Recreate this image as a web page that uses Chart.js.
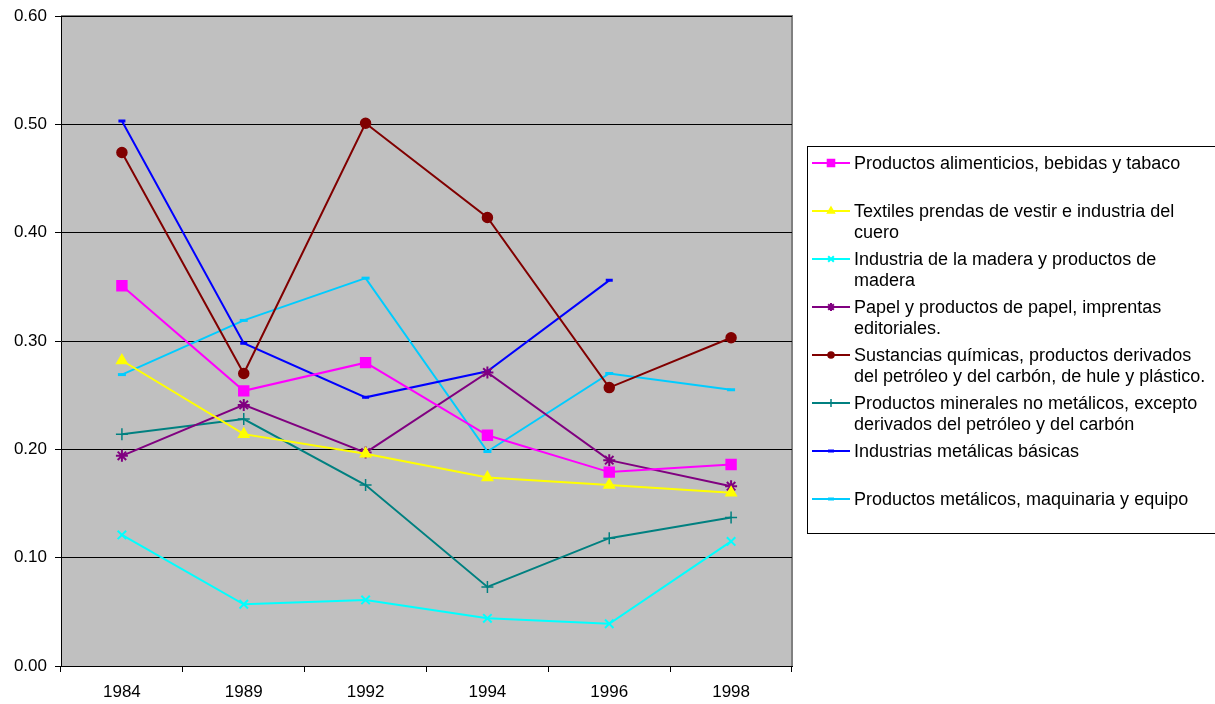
<!DOCTYPE html>
<html>
<head>
<meta charset="utf-8">
<script src="https://cdn.jsdelivr.net/npm/chart.js@4/dist/chart.umd.min.js"></script>
<style>
  html, body { margin: 0; padding: 0; background: #ffffff; }
  #wrap { position: relative; width: 1215px; height: 704px; }
</style>
</head>
<body>
<div id="wrap"><canvas id="c" width="1215" height="704"></canvas></div>
<script>
// Years on the category axis
const years = ['1984', '1989', '1992', '1994', '1996', '1998'];

// Series values by industry branch
const alimenticios = [0.351, 0.254, 0.280, 0.213, 0.179, 0.186];
const textiles     = [0.282, 0.214, 0.196, 0.174, 0.167, 0.160];
const madera       = [0.121, 0.057, 0.061, 0.044, 0.039, 0.115];
const papel        = [0.194, 0.241, 0.197, 0.271, 0.190, 0.166];
const quimicas     = [0.474, 0.270, 0.501, 0.414, 0.257, 0.303];
const minerales    = [0.214, 0.228, 0.167, 0.073, 0.118, 0.137];
const basicas      = [0.503, 0.298, 0.248, 0.272, 0.356, null];
const maquinaria   = [0.269, 0.319, 0.358, 0.198, 0.270, 0.255];

// Legend labels, already split into display lines
const names = [
  ['Productos alimenticios, bebidas y tabaco'],
  ['Textiles prendas de vestir e industria del', 'cuero'],
  ['Industria de la madera y productos de', 'madera'],
  ['Papel y productos de papel, imprentas', 'editoriales.'],
  ['Sustancias químicas, productos derivados', 'del petróleo y del carbón, de hule y plástico.'],
  ['Productos minerales no metálicos, excepto', 'derivados del petróleo y del carbón'],
  ['Industrias metálicas básicas'],
  ['Productos metálicos, maquinaria y equipo']
];

// Value axis tick labels
const yTicks = ['0.00', '0.10', '0.20', '0.30', '0.40', '0.50', '0.60'];

const FONT = '"Liberation Sans", Arial, sans-serif';

function series(i, data, color, style, radius, extra) {
  return Object.assign({
    label: names[i].join(' '),
    data: data,
    borderColor: color,
    backgroundColor: color,
    pointBackgroundColor: color,
    pointBorderColor: color,
    pointStyle: style,
    pointRadius: radius,
    pointHoverRadius: radius,
    pointBorderWidth: 1.5,
    borderWidth: 2,
    tension: 0,
    spanGaps: false
  }, extra || {});
}

const datasets = [
  series(0, alimenticios, '#FF00FF', 'rect', 7),
  series(1, textiles, '#FFFF00', 'triangle', 6),
  series(2, madera, '#00FFFF', 'crossRot', 6, { pointBorderWidth: 2 }),
  series(3, papel, '#800080', 'star', 6, { pointBorderWidth: 2 }),
  series(4, quimicas, '#800000', 'circle', 5),
  series(5, minerales, '#008080', 'cross', 6, { pointBorderWidth: 1.5 }),
  series(6, basicas, '#0000FF', 'line', 3.5, { pointBorderWidth: 3 }),
  series(7, maquinaria, '#00CCFF', 'line', 4, { pointBorderWidth: 3 })
];

// Grey plot area with a darker frame on top and right
const plotBackground = {
  id: 'plotBackground',
  beforeDraw(chart) {
    const { ctx, chartArea: a } = chart;
    ctx.save();
    ctx.fillStyle = '#C0C0C0';
    ctx.fillRect(a.left, a.top, a.right - a.left, a.bottom - a.top);
    ctx.strokeStyle = '#808080';
    ctx.lineWidth = 2;
    ctx.beginPath();
    ctx.moveTo(a.left, a.top);
    ctx.lineTo(a.right, a.top);
    ctx.lineTo(a.right, a.bottom);
    ctx.stroke();
    ctx.restore();
  }
};

// Boxed legend to the right of the plot, with wrapped labels
const boxLegend = {
  id: 'boxLegend',
  afterDraw(chart) {
    const { ctx } = chart;
    const left = 807, top = 146, right = 1222, bottom = 533;
    ctx.save();
    ctx.fillStyle = '#ffffff';
    ctx.fillRect(left, top, right - left, bottom - top);
    ctx.strokeStyle = '#000000';
    ctx.lineWidth = 1;
    ctx.strokeRect(left + 0.5, top + 0.5, right - left, bottom - top);
    ctx.font = '18px ' + FONT;
    ctx.textBaseline = 'middle';
    ctx.textAlign = 'left';
    chart.data.datasets.forEach((ds, i) => {
      const y = 163 + i * 48;
      ctx.strokeStyle = ds.borderColor;
      ctx.lineWidth = 2;
      ctx.beginPath();
      ctx.moveTo(812, y);
      ctx.lineTo(850, y);
      ctx.stroke();
      ctx.fillStyle = ds.pointBackgroundColor;
      ctx.strokeStyle = ds.pointBorderColor;
      ctx.lineWidth = ds.pointBorderWidth;
      const r = ds.pointStyle === 'line' ? 3 : Math.max(3, ds.pointRadius - 2);
      Chart.helpers.drawPoint(ctx, {
        pointStyle: ds.pointStyle, radius: r, rotation: 0, borderWidth: ds.pointBorderWidth
      }, 831, y);
      ctx.fillStyle = '#000000';
      names[i].forEach((line, k) => ctx.fillText(line, 854, y + 1 + k * 21));
    });
    ctx.restore();
  }
};

new Chart(document.getElementById('c'), {
  type: 'line',
  data: { labels: years, datasets: datasets },
  plugins: [plotBackground, boxLegend],
  options: {
    responsive: false,
    animation: false,
    layout: { padding: { left: 0, top: 16, right: 423, bottom: 0 } },
    plugins: { legend: { display: false }, tooltip: { enabled: false } },
    scales: {
      x: {
        type: 'category',
        offset: true,
        grid: { offset: true, drawOnChartArea: false, drawTicks: true, tickLength: 6, color: '#000000' },
        border: { display: true, color: '#000000', width: 1 },
        ticks: { color: '#000000', font: { family: FONT, size: 17 }, padding: 10, maxRotation: 0 },
        afterFit(s) { s.height = 38; s.paddingLeft = 0; s.paddingRight = 0; }
      },
      y: {
        min: 0, max: 0.6,
        grid: { color: '#000000', lineWidth: 1, tickLength: 6, drawTicks: true },
        border: { display: true, color: '#000000', width: 1 },
        ticks: {
          stepSize: 0.1, color: '#000000', font: { family: FONT, size: 17 }, padding: 8,
          callback: (v, i) => yTicks[i]
        },
        afterFit(s) { s.width = 61; s.paddingTop = 0; s.paddingBottom = 0; }
      }
    }
  }
});
</script>
</body>
</html>
